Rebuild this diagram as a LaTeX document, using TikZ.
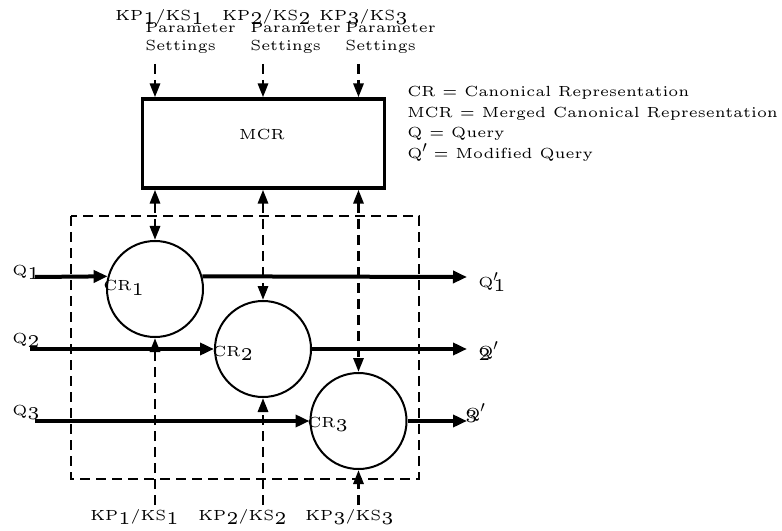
\documentclass[tikz,border=0pt]{standalone}
\usetikzlibrary{arrows.meta,positioning}
\font\figfont=cmr5 at 11pt
\font\subfont=cmr5 at 13.5pt
\newcommand\lowr[1]{\raisebox{-3pt}{\subfont #1}}
\newcommand\qpr{\raisebox{4.5pt}{\large$\prime$}}
\tikzset{
  lbl/.style={font=\figfont,inner sep=0pt},
  crnode/.style={draw,line width=1.5pt,circle,minimum size=72pt,inner sep=0pt},
  mcrbox/.style={draw,line width=2.4pt,minimum width=182pt,minimum height=66.75pt,inner sep=0pt},
  qarrow/.style={-{Triangle[length=10.5pt,width=9pt]},line width=3pt},
  kpline/.style={line width=2.2pt,dash pattern=on 7.5pt off 4.5pt},
  kparrow/.style={kpline,-{Triangle[length=10.5pt,width=7.5pt]}},
  kpboth/.style={kpline,{Triangle[length=10.5pt,width=7.5pt]}-{Triangle[length=10.5pt,width=7.5pt]}}
}

\begin{document}
\begin{tikzpicture}[x=0.75pt,y=-0.75pt]
\useasboundingbox (0,0) rectangle (782,531);
% merged representation and the canonical ones
\node[mcrbox] (mcr) at (263.5,143.5) {};
\node[lbl] (mcrname) at (262,135) {MCR};
\node[crnode] (cr1) at (155,289) {};
\node[crnode] (cr2) at (263,349) {};
\node[crnode] (cr3) at (358.5,421) {};
\node[lbl,anchor=base west] (crname1) at (103,291) {CR\lowr{1}};
\node[lbl,anchor=base west] (crname2) at (212,356) {CR\lowr{2}};
\node[lbl,anchor=base west] (crname3) at (307,427) {CR\lowr{3}};
\draw[kpline] (71,216) rectangle (419,479);
% queries in and out
\coordinate (qin1) at (35,277);
\coordinate (qin2) at (30,349);
\coordinate (qin3) at (35,421);
\coordinate (qout1) at (467,277);
\coordinate (qout2) at (467,349);
\coordinate (qout3) at (467,421);
\draw[qarrow] (qin1) -- (cr1.165);
\draw[qarrow] (cr1.15) -- (qout1);
\draw[qarrow] (qin2) -- (cr2.west);
\draw[qarrow] (cr2.east) -- (qout2);
\draw[qarrow] (qin3) -- (cr3.west);
\draw[qarrow] (cr3.east) -- (qout3);
\node[lbl,anchor=base west] (qname1) at (12,275) {Q\lowr{1}};
\node[lbl,anchor=base west] (qname2) at (12,343) {Q\lowr{2}};
\node[lbl,anchor=base west] (qname3) at (12,415) {Q\lowr{3}};
\node[lbl,anchor=base west] (qoutname1) at (478,287) {Q\rlap{\qpr}\lowr{1}};
\node[lbl,anchor=base west] (qoutname2) at (478,356) {\rlap{\lowr{2}}Q\qpr};
\node[lbl,anchor=base west] (qoutname3) at (465,418) {\rlap{\lowr{3}}Q\qpr};
% parameter settings
\coordinate (toprow) at (0,64);
\coordinate (botrow) at (0,505);
\foreach \i in {1,2,3} {
  \draw[kparrow] (cr\i |- toprow) -- (cr\i |- mcr.north);
  \draw[kpboth] (cr\i |- mcr.south) -- (cr\i.north);
  \draw[kparrow] (cr\i |- botrow) -- (cr\i.south);
}
\node[lbl,anchor=base west] (kptop1) at (115,21) {KP\lowr{1}/KS\lowr{1}};
\node[lbl,anchor=base west] (kptop2) at (222,21) {KP\lowr{2}/KS\lowr{2}};
\node[lbl,anchor=base west] (kptop3) at (319,21) {KP\lowr{3}/KS\lowr{3}};
\node[lbl,anchor=base west,align=left] (set1) at (145,51) {Parameter\\[1.5pt]Settings};
\node[lbl,anchor=base west,align=left] (set2) at (250,51) {Parameter\\[1.5pt]Settings};
\node[lbl,anchor=base west,align=left] (set3) at (345,51) {Parameter\\[1.5pt]Settings};
\node[lbl,anchor=base west] (kpbot1) at (90,520) {KP\lowr{1}/KS\lowr{1}};
\node[lbl,anchor=base west] (kpbot2) at (198,520) {KP\lowr{2}/KS\lowr{2}};
\node[lbl,anchor=base west] (kpbot3) at (305,520) {KP\lowr{3}/KS\lowr{3}};
% key
\node[lbl,anchor=base west] (key1) at (407,97) {CR = Canonical Representation};
\node[lbl,anchor=base west] (key2) at (407,118) {MCR = Merged Canonical Representation};
\node[lbl,anchor=base west] (key3) at (407,138) {Q = Query};
\node[lbl,anchor=base west] (key4) at (407,159) {Q\qpr\ = Modified Query};
\end{tikzpicture}
\end{document}
